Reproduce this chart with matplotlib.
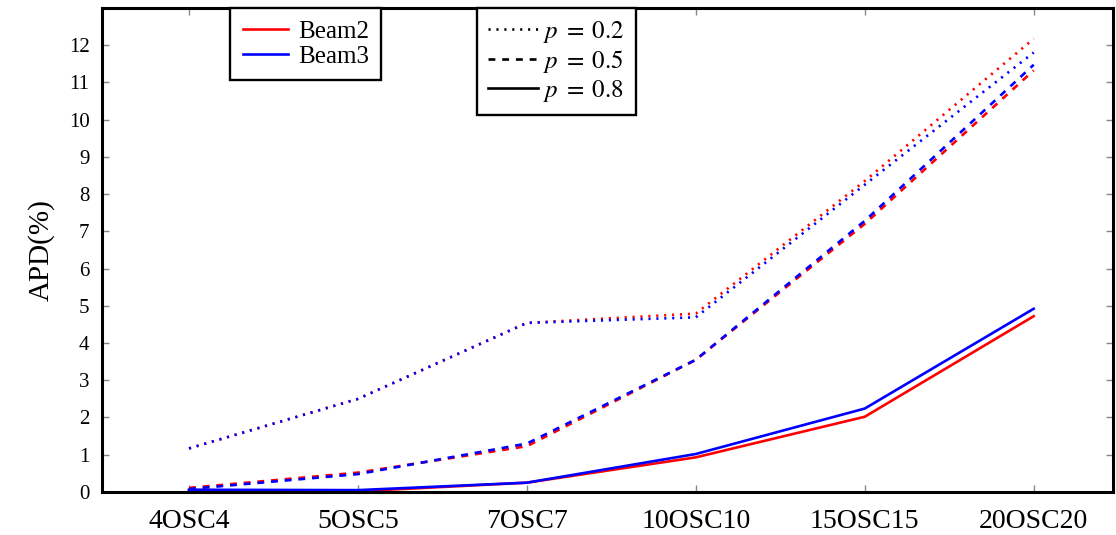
import numpy as np
import matplotlib.pyplot as plt
from matplotlib.lines import Line2D

plt.rcParams['font.family'] = ['Liberation Serif', 'DejaVu Serif']
plt.rcParams['mathtext.fontset'] = 'stix'

# data
categories = ['4OSC4', '5OSC5', '7OSC7', '10OSC10', '15OSC15', '20OSC20']

beam2_p02 = [1.17, 2.50, 4.54, 4.79, 8.35, 12.17]
beam3_p02 = [1.17, 2.50, 4.54, 4.69, 8.25, 11.80]
beam2_p05 = [0.11, 0.52, 1.23, 3.55, 7.20, 11.32]
beam3_p05 = [0.08, 0.48, 1.30, 3.55, 7.28, 11.47]
beam2_p08 = [0.05, 0.02, 0.25, 0.93, 2.02, 4.72]
beam3_p08 = [0.06, 0.05, 0.25, 1.02, 2.24, 4.92]

yticks = list(range(0, 13))


def main():
    fig = plt.figure(figsize=(11.16, 5.35), dpi=100)
    ax = fig.add_axes([0.0914, 0.0804, 0.906, 0.905])

    x = np.arange(len(categories))
    dot = (0, (0.8, 2.2))
    dash = (0, (2.6, 2.6))
    lw = 1.9

    ax.plot(x, beam2_p02, color='red', ls=dot, lw=lw)
    ax.plot(x, beam3_p02, color='blue', ls=dot, lw=lw)
    ax.plot(x, beam2_p05, color='red', ls=dash, lw=lw)
    ax.plot(x, beam3_p05, color='blue', ls=dash, lw=lw)
    ax.plot(x, beam2_p08, color='red', ls='-', lw=lw)
    ax.plot(x, beam3_p08, color='blue', ls='-', lw=lw)

    ax.set_xlim(-0.515, 5.47)
    ax.set_ylim(0, 13)
    ax.set_xticks(x)
    ax.set_xticklabels(categories, fontsize=20)
    ax.tick_params(axis='x', pad=12)
    ax.set_yticks(yticks)
    ax.set_yticklabels([str(v) for v in yticks], fontsize=15)
    ax.tick_params(direction='in', length=5, color='#888888', width=1,
                   top=True, right=True)
    ax.tick_params(axis='y', pad=9)
    for s in ax.spines.values():
        s.set_linewidth(2.2)
    ax.set_ylabel('APD(%)', fontsize=21, labelpad=10)

    h1 = [Line2D([], [], color='red', lw=lw), Line2D([], [], color='blue', lw=lw)]
    leg1 = ax.legend(h1, ['Beam2', 'Beam3'], loc='upper left',
                     bbox_to_anchor=(0.127, 1.0), borderaxespad=0,
                     fontsize=18, fancybox=False, framealpha=1,
                     edgecolor='black', handlelength=1.8, labelspacing=0.1,
                     handletextpad=0.4, borderpad=0.5)
    leg1.get_frame().set_linewidth(1.7)
    ax.add_artist(leg1)

    h2 = [Line2D([], [], color='black', lw=lw, ls=dot),
          Line2D([], [], color='black', lw=lw, ls=dash),
          Line2D([], [], color='black', lw=lw, ls='-')]
    leg2 = ax.legend(h2, [r'$p\;=\;0.2$', r'$p\;=\;0.5$', r'$p\;=\;0.8$'],
                     loc='upper left', bbox_to_anchor=(0.371, 1.0),
                     borderaxespad=0, fontsize=18, fancybox=False,
                     framealpha=1, edgecolor='black', handlelength=2.0,
                     labelspacing=0.12, handletextpad=0.2, borderpad=0.45)
    leg2.get_frame().set_linewidth(1.7)

    plt.savefig('out.png', dpi=100)


if __name__ == '__main__':
    main()
